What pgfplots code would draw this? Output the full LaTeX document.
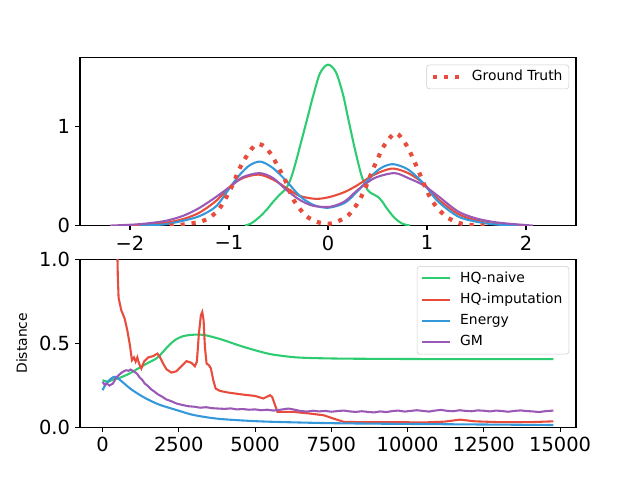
\documentclass[border=0pt]{standalone}
\usepackage{fontspec}
\setmainfont{DejaVu Sans}
\usepackage{pgfplots}
\pgfplotsset{compat=1.18}
\definecolor{cgreen}{HTML}{2ECC71}
\definecolor{cred}{HTML}{E74C3C}
\definecolor{cblue}{HTML}{3498DB}
\definecolor{cpurple}{HTML}{9B59B6}
\pgfplotsset{
  mpl/.style={
    scale only axis, width=357.12pt, height=120.96pt,
    axis line style={line width=0.8pt},
    tick align=outside, major tick length=3.5pt,
    every tick/.style={black, line width=0.8pt},
    xtick pos=left, ytick pos=left,
    scaled x ticks=false, scaled y ticks=false,
    ticklabel style={font=\fontsize{14}{16}\selectfont},
    xticklabel style={inner sep=3.5pt},
    yticklabel style={inner sep=3.5pt},
    legend cell align=left,
    legend image code/.code={\draw[##1] (0pt,0pt) -- (20pt,0pt);},
    legend style={at={(1,1)}, anchor=north east, xshift=-5pt, yshift=-5pt,
      draw=black!20, rounded corners=2pt, fill=white, fill opacity=0.8, text opacity=1,
      font=\fontsize{10}{12}\selectfont, inner xsep=3pt, inner ysep=2.5pt, row sep=3pt,
      nodes={inner sep=1.5pt, text height=7.3pt, text depth=2pt},
      /tikz/every odd column/.append style={column sep=5pt}},
    every axis plot/.append style={line width=1.5pt},
  }
}
\begin{document}
\begin{tikzpicture}
\path[use as bounding box] (0,0) rectangle (460.8pt,345.6pt);
% ---------------- top axis ----------------
\begin{axis}[mpl, at={(57.6pt,183.17pt)}, anchor=south west,
  xmin=-2.505, xmax=2.505, ymin=0, ymax=1.697,
  xtick={-2,-1,0,1,2}, xticklabels={−2,−1,0,1,2},
  ytick={0,1}, yticklabels={0,1}]
\addplot[cgreen, smooth, forget plot] coordinates {
(-0.84,0) (-0.78,0.02) (-0.70,0.08) (-0.62,0.16) (-0.55,0.245) (-0.49,0.31)
(-0.42,0.38) (-0.37,0.49) (-0.32,0.66) (-0.27,0.85) (-0.22,1.04) (-0.15,1.31)
(-0.08,1.54) (0,1.626) (0.08,1.55) (0.15,1.33) (0.20,1.10) (0.27,0.78)
(0.34,0.50) (0.40,0.36) (0.45,0.32) (0.505,0.29) (0.55,0.24) (0.59,0.18)
(0.67,0.08) (0.75,0.02) (0.83,0)};
\addplot[cred, smooth, forget plot] coordinates {
(-2.05,0) (-1.85,0.01) (-1.63,0.03) (-1.46,0.067) (-1.30,0.13) (-1.13,0.25)
(-0.98,0.40) (-0.86,0.48) (-0.70,0.515) (-0.555,0.465) (-0.42,0.38) (-0.286,0.30)
(-0.12,0.27) (0.02,0.29) (0.17,0.34) (0.30,0.41) (0.44,0.50) (0.55,0.55)
(0.664,0.576) (0.81,0.53) (0.96,0.43) (1.11,0.27) (1.31,0.12) (1.48,0.057)
(1.65,0.02) (1.85,0.005) (2.0,0)};
\addplot[cblue, smooth, forget plot] coordinates {
(-1.90,0) (-1.75,0.006) (-1.63,0.015) (-1.46,0.05) (-1.30,0.095) (-1.13,0.195)
(-0.98,0.40) (-0.89,0.515) (-0.79,0.61) (-0.68,0.646) (-0.555,0.58) (-0.42,0.45)
(-0.286,0.30) (-0.15,0.21) (0,0.18) (0.17,0.23) (0.30,0.35) (0.47,0.53)
(0.56,0.595) (0.664,0.62) (0.81,0.566) (0.96,0.43) (1.11,0.245) (1.31,0.094)
(1.48,0.043) (1.65,0.015) (1.80,0.005) (1.92,0)};
\addplot[cpurple, smooth, forget plot] coordinates {
(-2.2,0) (-1.97,0.01) (-1.80,0.025) (-1.63,0.05) (-1.46,0.10) (-1.30,0.178)
(-1.13,0.29) (-0.98,0.40) (-0.86,0.49) (-0.69,0.53) (-0.555,0.48) (-0.42,0.36)
(-0.286,0.26) (-0.15,0.20) (0.02,0.19) (0.17,0.245) (0.30,0.36) (0.47,0.48)
(0.67,0.53) (0.81,0.48) (0.96,0.41) (1.11,0.30) (1.31,0.145) (1.48,0.077)
(1.65,0.04) (1.82,0.02) (2.07,0)};
\addplot[cred, smooth, line width=3pt, dash pattern=on 3pt off 4.95pt] coordinates {
(-1.60,0) (-1.50,0.005) (-1.41,0.02) (-1.30,0.035) (-1.20,0.078) (-1.11,0.155)
(-1.05,0.246) (-1.00,0.337) (-0.95,0.44) (-0.91,0.54) (-0.86,0.64) (-0.80,0.735)
(-0.75,0.80) (-0.70,0.825) (-0.63,0.79) (-0.555,0.69) (-0.50,0.58) (-0.45,0.50)
(-0.40,0.38) (-0.36,0.28) (-0.30,0.19) (-0.225,0.10) (-0.13,0.045) (-0.05,0.022)
(0.02,0.02) (0.09,0.04) (0.19,0.09) (0.26,0.17) (0.32,0.26) (0.39,0.41)
(0.455,0.57) (0.50,0.67) (0.545,0.77) (0.61,0.87) (0.69,0.935) (0.775,0.84)
(0.83,0.74) (0.876,0.64) (0.92,0.54) (0.96,0.44) (1.00,0.35) (1.045,0.26)
(1.12,0.16) (1.21,0.08) (1.31,0.03) (1.41,0.01) (1.55,0.002) (1.65,0)};
\addlegendentry{Ground Truth}
\end{axis}
% ---------------- bottom axis ----------------
\begin{axis}[mpl, at={(57.6pt,38.016pt)}, anchor=south west,
  xmin=-739, xmax=15519, ymin=0, ymax=1,
  xtick={0,2500,5000,7500,10000,12500,15000},
  xticklabels={0,2500,5000,7500,10000,12500,15000},
  ytick={0,0.5,1}, yticklabels={0.0,0.5,1.0},
  ylabel={Distance},
  ylabel style={font=\fontsize{10}{12}\selectfont, at={(axis description cs:-0.1063,0.5)}, anchor=south, inner sep=0pt}]
\addplot[cgreen, smooth] coordinates {
(0,0.28) (175,0.27) (355,0.285) (504,0.29) (833,0.315) (1162,0.349) (1491,0.383)
(1765,0.409) (1930,0.438) (2149,0.482) (2368,0.518) (2642,0.542) (3026,0.551)
(3355,0.548) (3904,0.522) (4452,0.488) (5000,0.458) (5500,0.435) (6000,0.422)
(6400,0.415) (7000,0.411) (8000,0.408) (10000,0.406) (12000,0.405) (14780,0.405)};
\addlegendentry{HQ-naive}
\addplot[cred] coordinates {
(440,1.5) (470,1.2) (500,0.9) (526,0.77) (614,0.696) (724,0.647) (811,0.577)
(888,0.498) (965,0.399) (1031,0.415) (1085,0.39) (1140,0.415) (1195,0.379)
(1272,0.349) (1360,0.39) (1491,0.415) (1655,0.423) (1798,0.438) (1875,0.419)
(1985,0.379) (2094,0.345) (2259,0.325) (2423,0.333) (2566,0.359) (2752,0.393)
(2917,0.383) (3026,0.363) (3092,0.39) (3158,0.558) (3224,0.667) (3268,0.686)
(3312,0.637) (3355,0.478) (3410,0.379) (3487,0.369) (3553,0.349) (3629,0.28)
(3707,0.23) (3849,0.216) (4122,0.206) (4562,0.195) (5000,0.186) (5273,0.171)
(5430,0.185) (5493,0.19) (5560,0.18) (5734,0.091) (6260,0.091) (6809,0.081)
(7247,0.071) (7576,0.051) (7905,0.032) (8500,0.03) (9770,0.03) (10500,0.028)
(11200,0.033) (11720,0.045) (12200,0.035) (13000,0.03) (14016,0.03) (14780,0.035)};
\addlegendentry{HQ-imputation}
\addplot[cblue, smooth] coordinates {
(0,0.22) (120,0.26) (285,0.29) (420,0.30) (614,0.275) (943,0.225) (1382,0.175)
(1850,0.135) (2500,0.098) (3000,0.072) (3800,0.05) (5000,0.036) (6000,0.03)
(7500,0.024) (9000,0.021) (11000,0.018) (14780,0.013)};
\addlegendentry{Energy}
\addplot[cpurple] coordinates {
(0,0.27) (66,0.253) (150,0.258) (230,0.248) (340,0.26) (450,0.296) (530,0.31)
(614,0.323) (700,0.333) (779,0.339) (850,0.336) (921,0.343) (1053,0.329)
(1130,0.318) (1217,0.296) (1300,0.282) (1382,0.26) (1490,0.245) (1601,0.224)
(1700,0.212) (1820,0.195) (1950,0.182) (2094,0.165) (2250,0.155) (2423,0.141)
(2600,0.133) (2806,0.125) (3000,0.122) (3200,0.116) (3400,0.119) (3600,0.113)
(3800,0.111) (4000,0.109) (4200,0.112) (4400,0.106) (4600,0.108) (4800,0.104)
(5000,0.106) (5200,0.101) (5400,0.104) (5600,0.099) (5800,0.103) (6000,0.109)
(6100,0.111) (6300,0.104) (6500,0.096) (6700,0.093) (6900,0.098) (7100,0.094)
(7300,0.097) (7500,0.092) (7700,0.096) (7900,0.099) (8100,0.094) (8300,0.091)
(8500,0.095) (8700,0.091) (8900,0.088) (9100,0.094) (9300,0.090) (9500,0.096)
(9700,0.099) (9900,0.093) (10100,0.097) (10300,0.101) (10500,0.097) (10700,0.093)
(10900,0.099) (11100,0.103) (11300,0.097) (11500,0.095) (11700,0.101) (11900,0.097)
(12100,0.095) (12300,0.100) (12500,0.098) (12700,0.094) (12900,0.099) (13100,0.096)
(13300,0.092) (13500,0.097) (13700,0.100) (13900,0.096) (14100,0.094) (14300,0.090)
(14500,0.095) (14780,0.099)};
\addlegendentry{GM}
\end{axis}
\end{tikzpicture}
\end{document}
